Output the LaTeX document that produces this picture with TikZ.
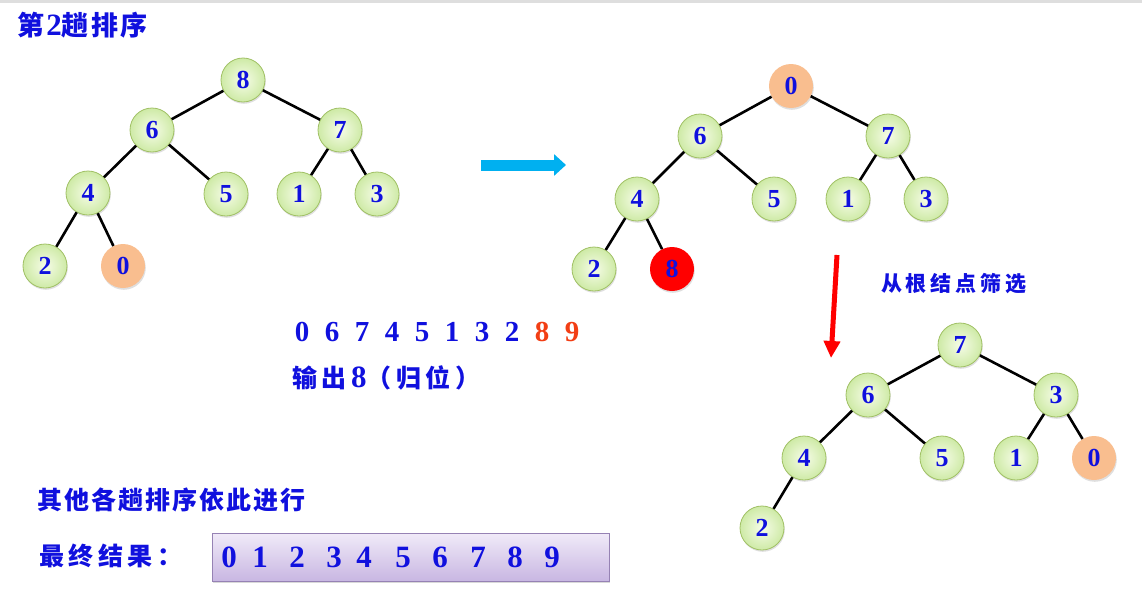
\documentclass[tikz,border=0pt]{standalone}
\usepackage{fontspec}
\setmainfont{Liberation Serif}
\newfontfamily\cjk[LetterSpace=8]{Noto Sans CJK SC}
\newfontfamily\cjkwide[LetterSpace=18]{Noto Sans CJK SC}
\newcommand{\bignum}[1]{\textrm{\fontsize{31}{31}\selectfont #1}}
\usetikzlibrary{arrows.meta,positioning,shadows}

\definecolor{numblue}{RGB}{16,16,222}
\definecolor{numred}{RGB}{242,62,20}
\definecolor{ballrim}{RGB}{160,192,100}
\definecolor{ballin}{RGB}{246,252,232}
\definecolor{ballout}{RGB}{206,234,166}
\definecolor{orangeball}{RGB}{249,190,143}
\definecolor{arrowcyan}{RGB}{0,176,240}
\definecolor{boxtop}{RGB}{240,234,248}
\definecolor{boxbot}{RGB}{200,182,226}
\definecolor{boxrim}{RGB}{150,130,180}

\begin{document}
\begin{tikzpicture}[
  x=1pt, y=-1pt,
  >=Latex,
  knot/.style={circle, minimum size=44pt, inner sep=0pt, text=numblue,
    font=\bfseries\fontsize{26}{26}\selectfont,
    drop shadow={opacity=0.25, shadow xshift=0.8pt, shadow yshift=-1.8pt}},
  ball/.style={knot, draw=ballrim, line width=0.8pt, inner color=ballin, outer color=ballout},
  hotball/.style={knot, fill=orangeball},
  outball/.style={knot, fill=red},
  edge/.style={draw, line width=2.6pt},
  hanzi/.style={text=numblue, inner sep=0pt, font=\cjk\bfseries\fontsize{25}{25}\selectfont},
  digit/.style={text=numblue, inner sep=0pt, font=\bfseries\fontsize{29}{29}\selectfont},
  boxdigit/.style={digit, font=\bfseries\fontsize{31}{31}\selectfont}
]
\useasboundingbox (0,0) rectangle (1142,605);
\fill[black!13] (0,0) rectangle (1142,2.5);

% title
\node[hanzi, anchor=west, font=\cjk\bfseries\fontsize{27}{27}\selectfont] (title) at (17,25) {第\bignum{2}趟排序};

% tree before the swap
\node[ball] (a8) at (243,80) {8};
\node[ball] (a6) at (152,130) {6};
\node[ball] (a7) at (340,130) {7};
\node[ball] (a4) at (88,193) {4};
\node[ball] (a5) at (226,194) {5};
\node[ball] (a1) at (299,194) {1};
\node[ball] (a3) at (377,194) {3};
\node[ball] (a2) at (45,266) {2};
\node[hotball] (a0) at (123,266) {0};

\path[edge] (a8) -- (a6);
\path[edge] (a8) -- (a7);
\path[edge] (a6) -- (a4);
\path[edge] (a6) -- (a5);
\path[edge] (a7) -- (a1);
\path[edge] (a7) -- (a3);
\path[edge] (a4) -- (a2);
\path[edge] (a4) -- (a0);

% swap arrow
\coordinate (swapL) at (481,165);
\coordinate (swapR) at (566,165);
\draw[arrowcyan, line width=11pt, -{Triangle[length=12pt, width=21pt]}] (swapL) -- (swapR);

% tree after the swap
\node[hotball] (b0) at (791,86) {0};
\node[ball] (b6) at (700,136) {6};
\node[ball] (b7) at (888,136) {7};
\node[ball] (b4) at (637,199) {4};
\node[ball] (b5) at (774,199) {5};
\node[ball] (b1) at (848,199) {1};
\node[ball] (b3) at (926,199) {3};
\node[ball] (b2) at (594,269) {2};
\node[outball] (b8) at (672,269) {8};

\path[edge] (b0) -- (b6);
\path[edge] (b0) -- (b7);
\path[edge] (b6) -- (b4);
\path[edge] (b6) -- (b5);
\path[edge] (b7) -- (b1);
\path[edge] (b7) -- (b3);
\path[edge] (b4) -- (b2);
\path[edge] (b4) -- (b8);

% sift arrow
\coordinate (siftT) at (837,255);
\coordinate (siftB) at (831,358);
\draw[red, line width=5pt, -{Triangle[length=17pt, width=16pt]}] (siftT) -- (siftB);
\node[hanzi, font=\cjkwide\bfseries\fontsize{21}{21}\selectfont, anchor=west] (sift) at (881,284) {从根结点筛选};

% tree after sifting
\node[ball] (c7) at (960,345) {7};
\node[ball] (c6) at (868,395) {6};
\node[ball] (c3) at (1056,395) {3};
\node[ball] (c4) at (804,458) {4};
\node[ball] (c5) at (942,458) {5};
\node[ball] (c1) at (1016,458) {1};
\node[hotball] (c0) at (1094,458) {0};
\node[ball] (c2) at (762,528) {2};

\path[edge] (c7) -- (c6);
\path[edge] (c7) -- (c3);
\path[edge] (c6) -- (c4);
\path[edge] (c6) -- (c5);
\path[edge] (c3) -- (c1);
\path[edge] (c3) -- (c0);
\path[edge] (c4) -- (c2);

% array after step 2
\foreach \v [count=\i] in {0,6,7,4,5,1,3,2} {
  \node[digit] (s\i) at (272+30*\i,332) {\v};
}
\node[digit, text=numred] (s9) at (542,332) {8};
\node[digit, text=numred] (s10) at (572,332) {9};
\node[hanzi, font=\cjkwide\bfseries\fontsize{25}{25}\selectfont, anchor=west] (out) at (292,378) {输出\bignum{8}（归位）};

% final result
\node[hanzi, anchor=west] (rest) at (37,500) {其他各趟排序依此进行};
\node[hanzi, font=\cjkwide\bfseries\fontsize{25}{25}\selectfont, anchor=west] (final) at (39,556) {最终结果：};
\node[draw=boxrim, line width=0.8pt, top color=boxtop, bottom color=boxbot,
  minimum width=397pt, minimum height=48pt, anchor=north west,
  drop shadow={opacity=0.3, shadow xshift=1pt, shadow yshift=-2pt}] (res) at (212,533) {};
\foreach \v/\px in {0/229,1/260,2/297,3/334,4/364,5/403,6/440,7/478,8/515,9/552} {
  \node[boxdigit] (r\v) at (\px,557) {\v};
}
\end{tikzpicture}
\end{document}
